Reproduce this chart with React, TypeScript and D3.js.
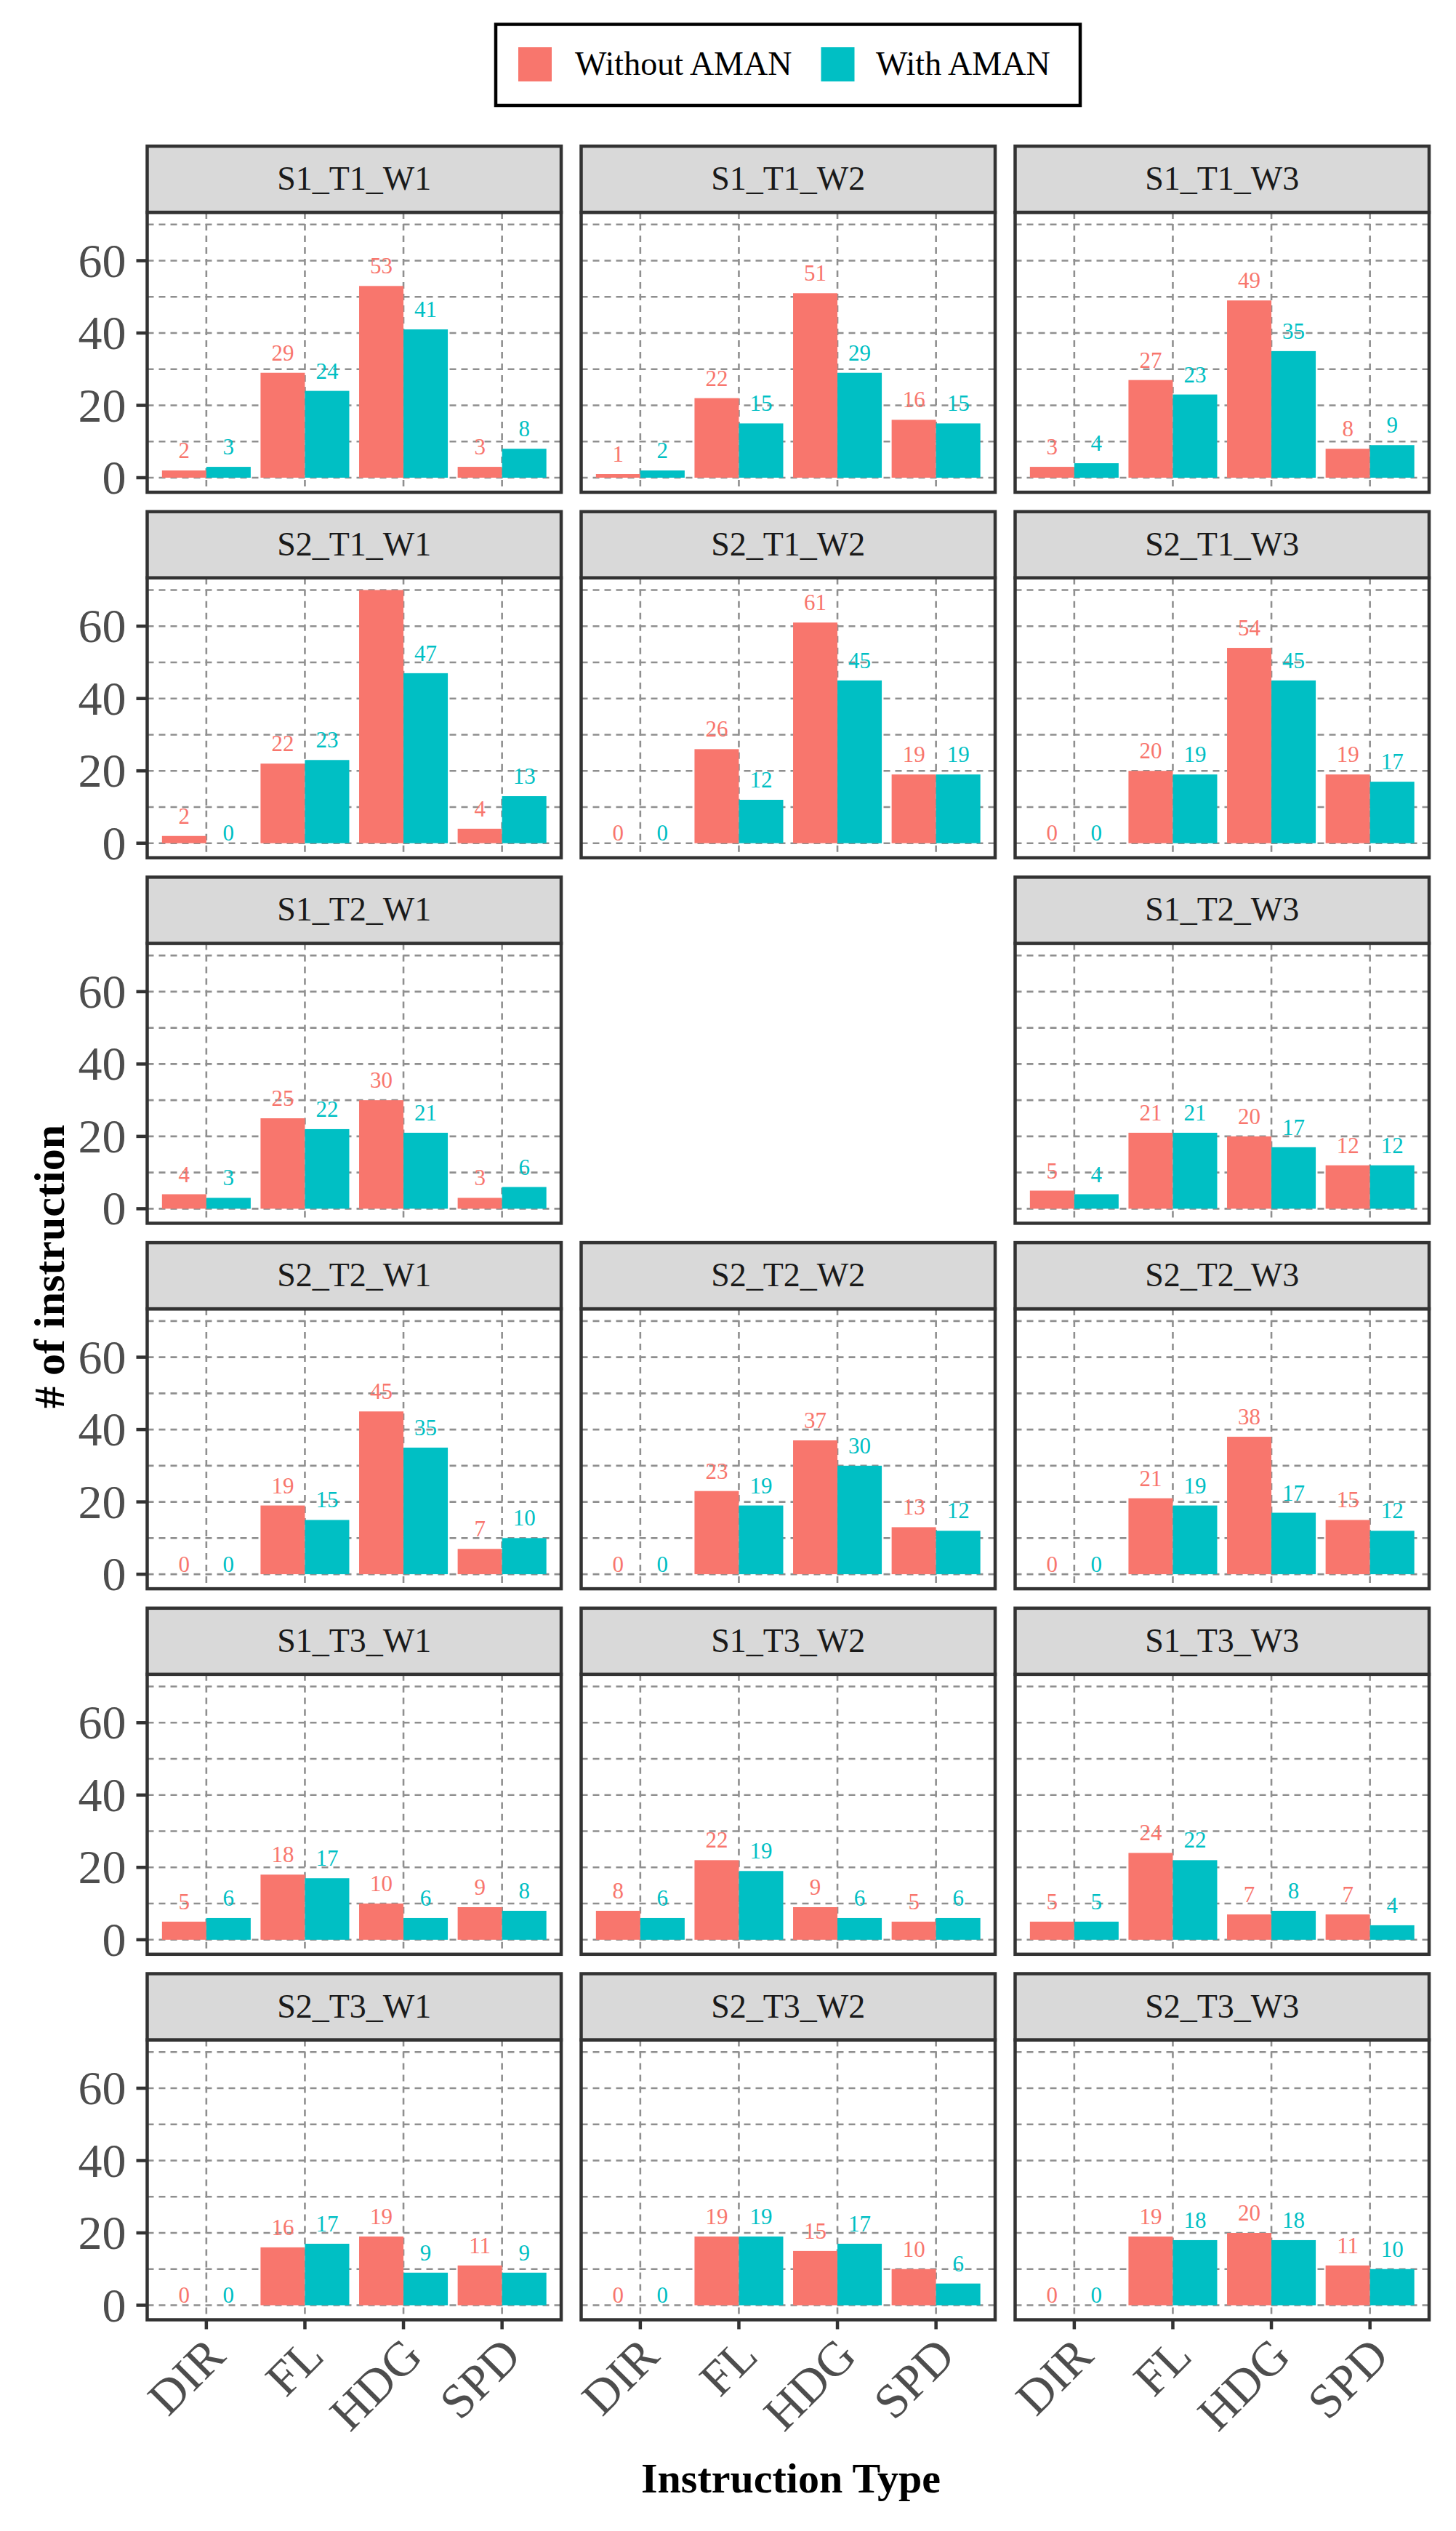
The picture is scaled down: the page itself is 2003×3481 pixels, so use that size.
import React from "react";
import * as d3 from "d3";

const categories = ["DIR", "FL", "HDG", "SPD"];
const seriesNames = ["Without AMAN", "With AMAN"];
const seriesColors = ["#F8766D", "#00BFC4"];

const panelNames = [
  "S1_T1_W1", "S1_T1_W2", "S1_T1_W3",
  "S2_T1_W1", "S2_T1_W2", "S2_T1_W3",
  "S1_T2_W1", "S1_T2_W3",
  "S2_T2_W1", "S2_T2_W2", "S2_T2_W3",
  "S1_T3_W1", "S1_T3_W2", "S1_T3_W3",
  "S2_T3_W1", "S2_T3_W2", "S2_T3_W3",
];
// grid slot (row*3+col) of each panel; slot 7 is empty
const panelSlots = [0, 1, 2, 3, 4, 5, 6, 8, 9, 10, 11, 12, 13, 14, 15, 16, 17];

const withoutAman = [
  [2, 29, 53, 3], [1, 22, 51, 16], [3, 27, 49, 8],
  [2, 22, 70, 4], [0, 26, 61, 19], [0, 20, 54, 19],
  [4, 25, 30, 3], [5, 21, 20, 12],
  [0, 19, 45, 7], [0, 23, 37, 13], [0, 21, 38, 15],
  [5, 18, 10, 9], [8, 22, 9, 5], [5, 24, 7, 7],
  [0, 16, 19, 11], [0, 19, 15, 10], [0, 19, 20, 11],
];
const withAman = [
  [3, 24, 41, 8], [2, 15, 29, 15], [4, 23, 35, 9],
  [0, 23, 47, 13], [0, 12, 45, 19], [0, 19, 45, 17],
  [3, 22, 21, 6], [4, 21, 17, 12],
  [0, 15, 35, 10], [0, 19, 30, 12], [0, 19, 17, 12],
  [6, 17, 6, 8], [6, 19, 6, 6], [5, 22, 8, 4],
  [0, 17, 9, 9], [0, 19, 17, 6], [0, 18, 18, 10],
];

const yTickValues = [0, 20, 40, 60];
const yGridValues = [0, 10, 20, 30, 40, 50, 60, 70];

const W = 2003;
const H = 3481;
const FONT = "'Liberation Serif', 'Times New Roman', serif";

const plotLeft = 202.5;
const plotRight = 1966;
const colGap = 27.5;
const panelW = (plotRight - plotLeft - 2 * colGap) / 3;
const firstStripTop = 201;
const rowPitch = 502.7;
const stripH = 91;
const panelH = 385;
const nRows = 6;
const labelSize = 31;

function Panel({ idx }: { idx: number }) {
  const slot = panelSlots[idx];
  const row = Math.floor(slot / 3);
  const col = slot % 3;
  const left = plotLeft + col * (panelW + colGap);
  const stripTop = firstStripTop + row * rowPitch;
  const top = stripTop + stripH;
  const bottom = top + panelH;

  const x = d3.scalePoint<string>().domain(categories).range([left, left + panelW]).padding(0.6);
  const step = x.step();
  const xs = d3.scaleBand<string>().domain(seriesNames).range([-0.45 * step, 0.45 * step]);
  const y = d3.scaleLinear().domain([0, 60]).range([top + 365, top + 66.5]);

  const values = [withoutAman[idx], withAman[idx]];
  const clipId = `clip-${idx}`;
  const isBottom = row === nRows - 1;
  const isLeft = col === 0;

  return (
    <g>
      <defs>
        <clipPath id={clipId}>
          <rect x={left} y={top} width={panelW} height={panelH} />
        </clipPath>
      </defs>
      <rect x={left} y={top} width={panelW} height={panelH} fill="#FFFFFF" />
      <g clipPath={`url(#${clipId})`}>
        {yGridValues.map((v) => (
          <line key={`h${v}`} x1={left} x2={left + panelW} y1={y(v)} y2={y(v)}
            stroke="#8F8F8F" strokeWidth={2.6} strokeDasharray="9,7" />
        ))}
        {categories.map((c) => (
          <line key={`v${c}`} x1={x(c)} x2={x(c)} y1={top} y2={bottom}
            stroke="#8F8F8F" strokeWidth={2.6} strokeDasharray="9,7" />
        ))}
        {seriesNames.map((s, si) =>
          categories.map((c, ci) => {
            const v = values[si][ci];
            const bx = (x(c) as number) + (xs(s) as number);
            return (
              <rect key={`b${s}${c}`} x={bx} width={xs.bandwidth()} y={y(v)}
                height={y(0) - y(v)} fill={seriesColors[si]} />
            );
          })
        )}
        {seriesNames.map((s, si) =>
          categories.map((c, ci) => {
            const v = values[si][ci];
            const bx = (x(c) as number) + (xs(s) as number) + xs.bandwidth() / 2;
            const ty = v === 0 ? y(0) - 3.5 : y(v) - 17;
            // labels that fall outside the panel are clipped away (as in the reference)
            if (ty - labelSize * 0.5 < top) return null;
            return (
              <text key={`t${s}${c}`} x={bx} y={ty} fill={seriesColors[si]}
                fontSize={labelSize} fontFamily={FONT} textAnchor="middle">{v}</text>
            );
          })
        )}
      </g>
      <rect x={left} y={top} width={panelW} height={panelH} fill="none"
        stroke="#333333" strokeWidth={4.5} />
      <rect x={left} y={stripTop} width={panelW} height={stripH} fill="#D9D9D9"
        stroke="#333333" strokeWidth={4.5} />
      <text x={left + panelW / 2} y={stripTop + 60} textAnchor="middle" fontSize={46}
        fontFamily={FONT} fill="#1A1A1A">{panelNames[idx]}</text>
      {isLeft && yTickValues.map((v) => (
        <g key={`yt${v}`}>
          <line x1={left - 15} x2={left} y1={y(v)} y2={y(v)} stroke="#333333" strokeWidth={4.5} />
          <text x={left - 29} y={y(v) + 22} textAnchor="end" fontSize={66}
            fontFamily={FONT} fill="#4D4D4D">{v}</text>
        </g>
      ))}
      {isBottom && categories.map((c) => (
        <g key={`xt${c}`}>
          <line x1={x(c)} x2={x(c)} y1={bottom} y2={bottom + 13} stroke="#333333" strokeWidth={4.5} />
          <text transform={`translate(${(x(c) as number) + 29},${bottom + 24 + 29}) rotate(-45)`}
            textAnchor="end" fontSize={67} fontFamily={FONT} fill="#4D4D4D">{c}</text>
        </g>
      ))}
    </g>
  );
}

export default function App() {
  const legendLeft = 682;
  const legendTop = 33.5;
  const legendW = 804;
  const legendH = 111.5;
  const keyX = [713, 1129.5];
  const labelX = [791, 1205];
  return (
    <svg width={W} height={H} viewBox={`0 0 ${W} ${H}`}
      style={{ position: "absolute", left: 0, top: 0, background: "#FFFFFF" }}>
      <rect x={0} y={0} width={W} height={H} fill="#FFFFFF" />
      <rect x={legendLeft} y={legendTop} width={legendW} height={legendH} fill="#FFFFFF"
        stroke="#000000" strokeWidth={4.5} />
      {seriesNames.map((s, i) => (
        <g key={s}>
          <rect x={keyX[i]} y={65} width={46} height={47} fill={seriesColors[i]} />
          <text x={labelX[i]} y={103} fontSize={46} fontFamily={FONT} fill="#000000">{s}</text>
        </g>
      ))}
      {panelNames.map((_, i) => (
        <Panel key={i} idx={i} />
      ))}
      <text transform={`translate(88,1742) rotate(-90)`} textAnchor="middle" fontSize={60}
        fontWeight="bold" fontFamily={FONT} fill="#000000"># of instruction</text>
      <text x={1088} y={3428} textAnchor="middle" fontSize={58} fontWeight="bold"
        fontFamily={FONT} fill="#000000">Instruction Type</text>
    </svg>
  );
}
